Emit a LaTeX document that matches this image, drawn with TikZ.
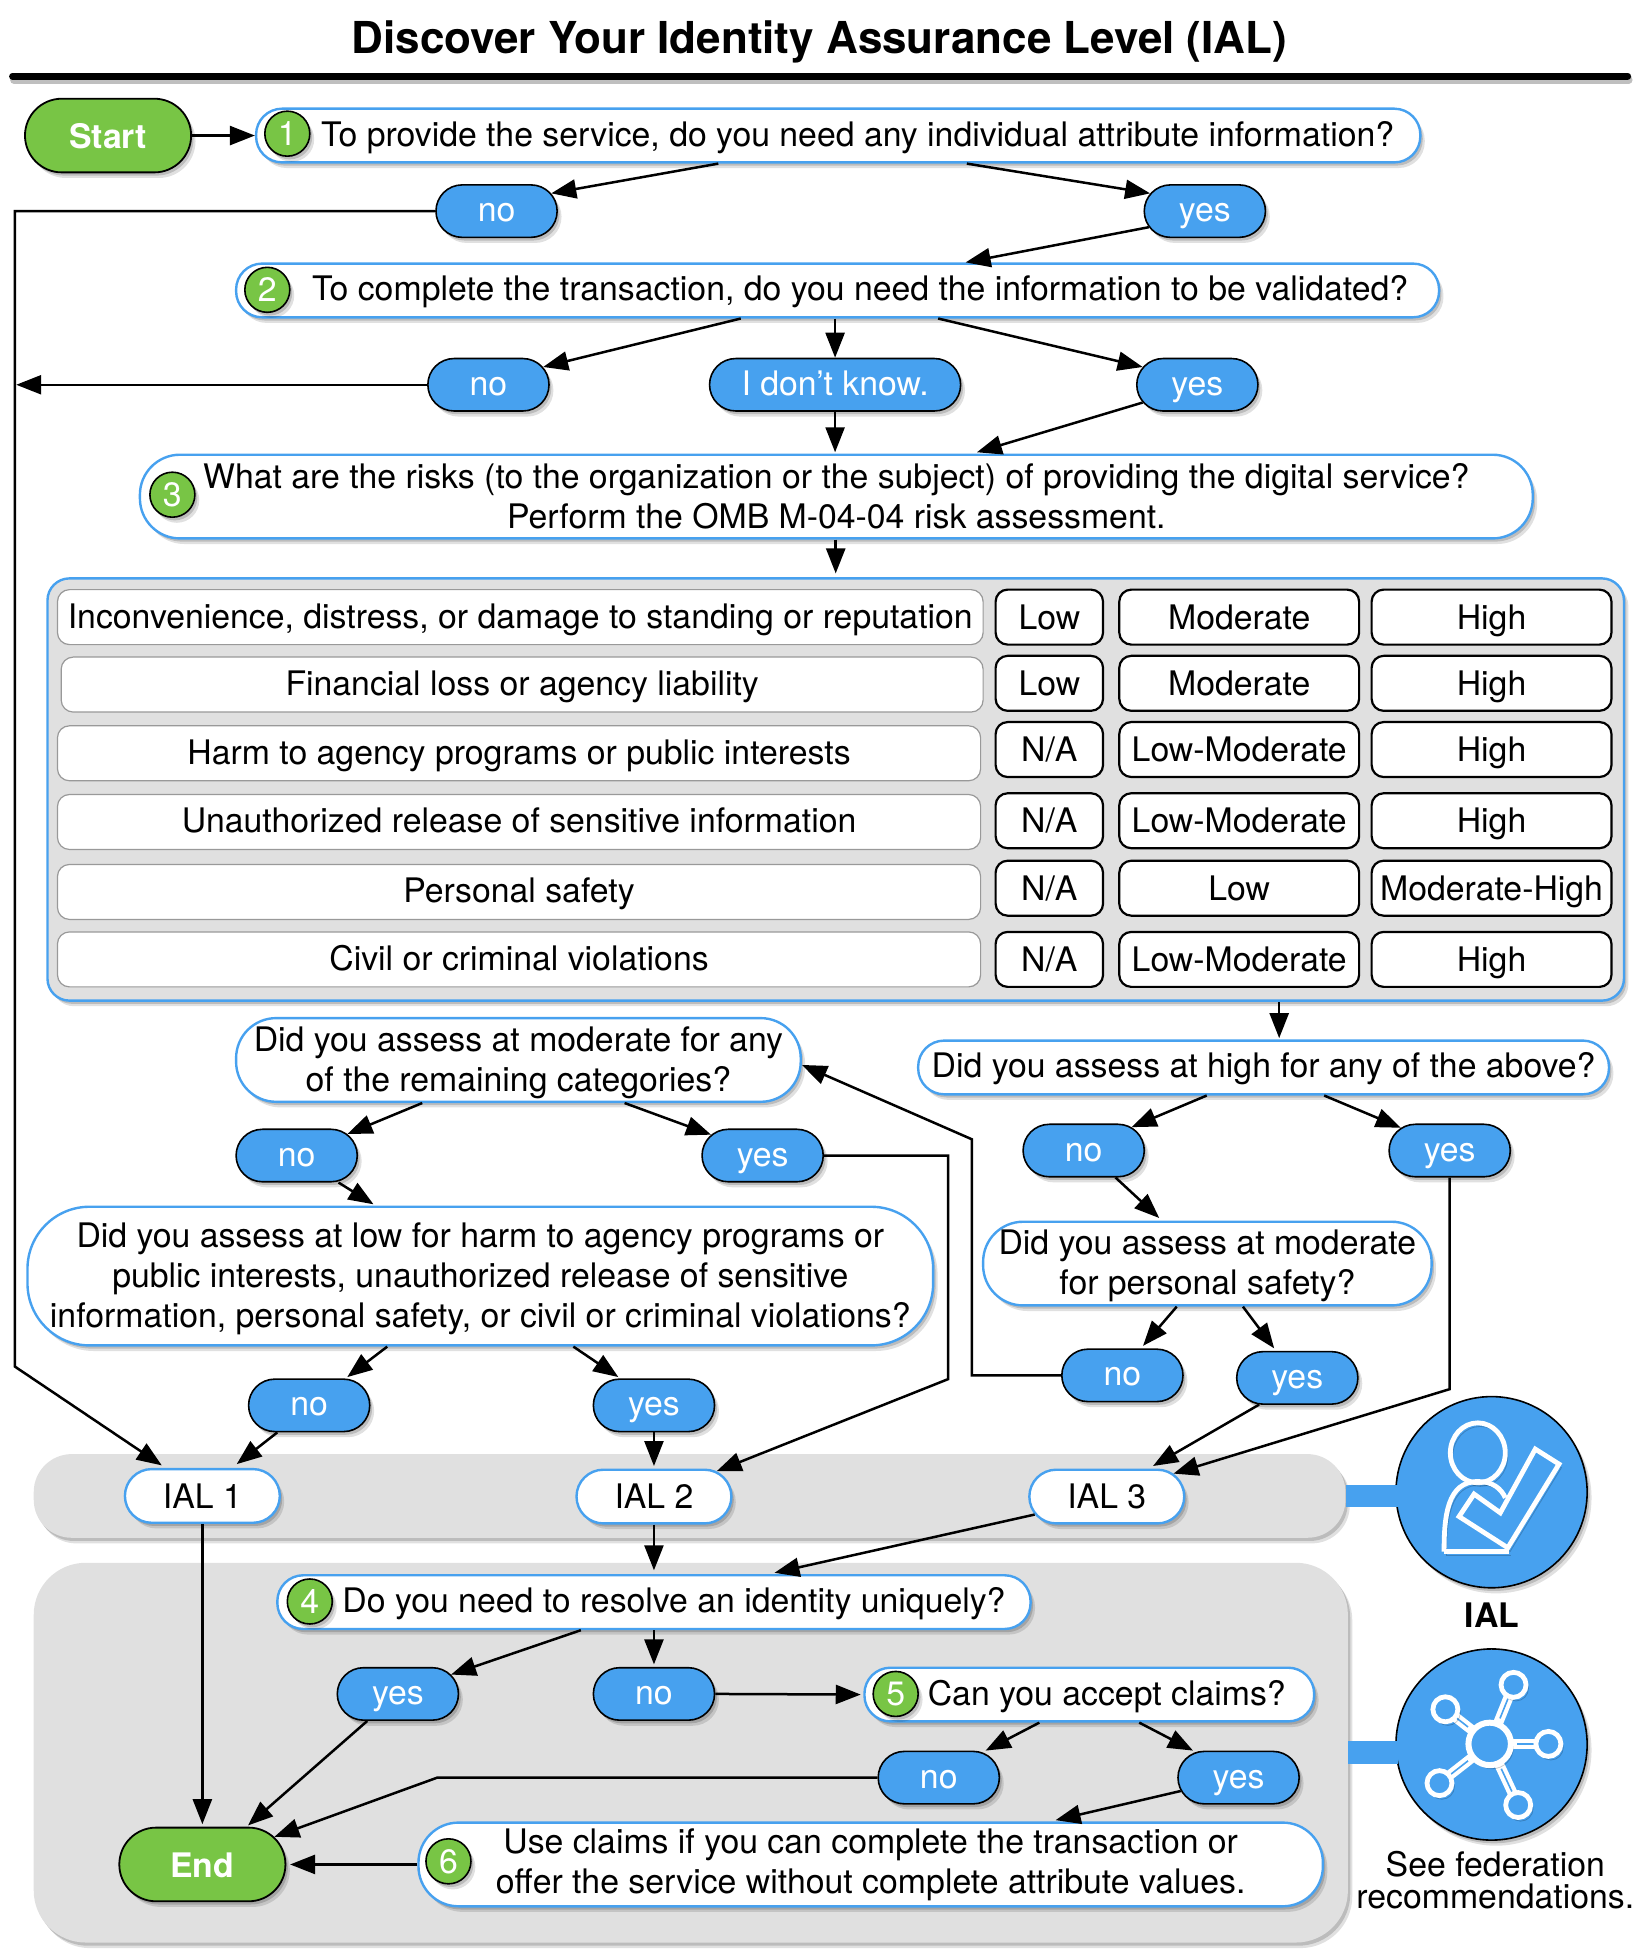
\documentclass[tikz,border=0pt]{standalone}
\usepackage{fontspec}
\setmainfont{TeX Gyre Heros}
\usetikzlibrary{arrows.meta,calc,shadows,shapes.misc}
\definecolor{skyblue}{HTML}{47A1EF}
\definecolor{leaf}{HTML}{78C545}
\definecolor{panelgray}{HTML}{E0E0E0}
\newcommand{\lowerline}{\rule{0pt}{14.8pt}}
\tikzset{
	boxsize/.style 2 args={minimum width=#1*0.6246pt,minimum height=#2*0.6246pt},
	softshadow/.style={drop shadow={shadow xshift=1.2pt,shadow yshift=-1.6pt,opacity=.16,fill=black},drop shadow={shadow xshift=2.2pt,shadow yshift=-2.8pt,opacity=.12,fill=black}},
	bodytext/.style={font=\fontsize{16.9}{20}\selectfont},
	question/.style={rectangle,rounded corners=13pt,draw=skyblue,line width=1.2pt,fill=white,inner sep=0pt,align=center,softshadow,bodytext,execute at begin node={\rule{0pt}{14.2pt}}},
	answer/.style={rounded rectangle,draw=black,line width=.8pt,fill=skyblue,text=white,inner sep=0pt,text height=13.5pt,text depth=3pt,softshadow,bodytext,boxsize={97}{42}},
	terminal/.style={rounded rectangle,draw=black,line width=.9pt,fill=leaf,text=white,inner sep=0pt,text height=13.2pt,text depth=0pt,softshadow,boxsize={133}{59},font=\fontsize{16.9}{20}\selectfont\bfseries},
	level/.style={rounded rectangle,draw=skyblue,line width=1.2pt,fill=white,inner sep=0pt,softshadow,bodytext,boxsize={124}{43}},
	badge/.style={circle,draw=black,line width=.8pt,fill=leaf,text=white,inner sep=0pt,minimum size=22.5pt,softshadow,bodytext},
	rowlabel/.style={rectangle,rounded corners=6pt,draw=black!40,line width=.6pt,fill=white,inner sep=0pt,text height=14pt,text depth=3pt,bodytext},
	cell/.style={rectangle,rounded corners=6pt,draw=black,line width=1.1pt,fill=white,inner sep=0pt,text height=15pt,text depth=3pt,bodytext},
	band/.style={rectangle,fill=panelgray,softshadow},
	link/.style={-{Triangle[length=12.5pt,width=9.5pt]},line width=1.25pt},
	iconline/.style={draw=white,line width=2.4pt,preaction={draw=black,opacity=.2,transform canvas={shift={(1.2pt,-1.8pt)}}}},
	iconcircle/.style={circle,draw=black,line width=.8pt,fill=skyblue,minimum size=95.6pt,inner sep=0pt,softshadow}
}
\begin{document}
\begin{tikzpicture}[x=0.6246pt,y=-0.6246pt]
	\useasboundingbox (0,0) rectangle (1311.2,1567.4);

	% title
	\node[font=\fontsize{22}{26}\selectfont\bfseries] (title) at (656,33.5) {Discover Your Identity Assurance Level (IAL)};
	\draw[line width=3.6pt,line cap=round,black!25] (11,64) -- (1304,64);
	\draw[line width=3.4pt,line cap=round] (10,61) -- (1303,61);

	% grey bands behind the levels
	\node[band,rounded corners=19pt,boxsize={1050}{67}] (banda) at (552,1197.5) {};
	\node[band,rounded corners=26pt,boxsize={1052}{304}] (bandb) at (553,1403) {};
	\node[iconcircle] (icona) at (1194,1194.5) {};
	\node[iconcircle] (iconb) at (1194,1396.5) {};
	\fill[skyblue] ($(banda.east)+(0,-9)$) rectangle ($(icona.west)+(2,12)$);
	\fill[skyblue] ($(bandb.east)+(0,-9)$) rectangle ($(iconb.west |- bandb.east)+(2,9)$);

	% person with the check mark
	\draw[iconline] (1183,1163) ellipse (22 and 24);
	\draw[iconline,line join=miter] (1156,1242) .. controls (1156,1215) and (1158,1185) .. (1184,1186) .. controls (1195,1186) and (1202,1192) .. (1205,1199);
	\draw[iconline] (1156,1242) -- (1208,1242);
	\filldraw[iconline,fill=skyblue,line join=miter] (1229,1160) -- (1248,1172) -- (1207,1239) -- (1168,1214) -- (1180,1196) -- (1201,1211) -- cycle;

	% network
	\begin{scope}[shift={(1192.5,1396)}]
		\foreach \ang/\len in {-68/51,-142/45,0/47,142/51,65/54}{
			\draw[white,line width=5pt,preaction={draw=black,opacity=.2,transform canvas={shift={(1.2pt,-1.8pt)}}}] (\ang:16) -- (\ang:\len);
			\draw[skyblue,line width=.8pt] (\ang:22) -- (\ang:\len);
			\filldraw[iconline,fill=skyblue] (\ang:\len) circle (10);
		}
		\filldraw[iconline,fill=skyblue,line width=3pt] (0,0) circle (17);
	\end{scope}
	\node[font=\fontsize{16.9}{20}\selectfont\bfseries] (iallabel) at (1194.5,1293) {IAL};
	\node[align=center,font=\fontsize{16.9}{16}\selectfont] (fedlabel) at (1197,1505) {See federation\\recommendations.};

	% questions
	\node[terminal] (startnode) at (86.5,108.5) {Start};
	\node[question,boxsize={932}{43}] (qa) at (671,108.5) {\hspace{19.4pt}To provide the service, do you need any individual attribute information?};
	\node[badge] (ba) at (230,107) {1};
	\node[answer] (noa) at (397.5,169) {no};
	\node[answer] (yesa) at (964.5,169) {yes};

	\node[question,boxsize={963}{43}] (qb) at (670.5,232.5) {\hspace{22.5pt}To complete the transaction, do you need the information to be validated?};
	\node[badge] (bb) at (214,232) {2};
	\node[answer] (nob) at (391,308) {no};
	\node[answer,boxsize={201}{42}] (dunno) at (668.5,308) {I don’t know.};
	\node[answer] (yesb) at (958.5,308) {yes};

	\node[question,rounded corners=20pt,boxsize={1115}{67}] (qc) at (669.5,397.5) {What are the risks (to the organization or the subject) of providing the digital service?\\Perform the OMB M-04-04 risk assessment.};
	\node[badge] (bc) at (138,396) {3};

	% risk table
	\node[rectangle,rounded corners=11pt,draw=skyblue,line width=1.2pt,fill=panelgray,softshadow,boxsize={1262}{338}] (panel) at (669,632) {};
	\foreach \lx/\lw/\ly/\cy/\ca/\cb/\cc/\txt [count=\n] in {
		416.5/741/494/494/Low/Moderate/High/{Inconvenience, distress, or damage to standing or reputation},
		418/738/548/547/Low/Moderate/High/{Financial loss or agency liability},
		415.5/739/603/600/N\slash A/Low-Moderate/High/{Harm to agency programs or public interests},
		415.5/739/658/657/N\slash A/Low-Moderate/High/{Unauthorized release of sensitive information},
		415.5/739/714/711/N\slash A/Low/Moderate-High/{Personal safety},
		415.5/739/768/768/N\slash A/Low-Moderate/High/{Civil or criminal violations}}{
		\node[rowlabel,boxsize={\lw}{44}] (row\n) at (\lx,\ly) {\txt};
		\node[cell,boxsize={86}{44}] (low\n) at (840,\cy) {\ca};
		\node[cell,boxsize={192}{44}] (mid\n) at (992,\cy) {\cb};
		\node[cell,boxsize={192}{44}] (high\n) at (1194,\cy) {\cc};
	}

	\node[question,rounded corners=20pt,boxsize={452}{67}] (qmod) at (415,848.5) {\lowerline Did you assess at moderate for any\\of the remaining categories?};
	\node[question,boxsize={553}{43}] (qhigh) at (1011.5,854.5) {Did you assess at high for any of the above?};
	\node[answer] (nomod) at (237.5,925) {no};
	\node[answer] (yesmod) at (610.5,925) {yes};
	\node[answer] (nohigh) at (867.5,921) {no};
	\node[answer] (yeshigh) at (1160.5,921) {yes};
	\node[question,rounded corners=31pt,boxsize={725}{111}] (qlow) at (384.5,1021.5) {\lowerline Did you assess at low for harm to agency programs or\\public interests, unauthorized release of sensitive\\information, personal safety, or civil or criminal violations?};
	\node[question,rounded corners=20pt,boxsize={359}{67}] (qsafe) at (966.5,1011.5) {\lowerline Did you assess at moderate\\for personal safety?};
	\node[answer] (nosafe) at (898.5,1101) {no};
	\node[answer] (yessafe) at (1038.5,1103) {yes};
	\node[answer] (nolow) at (247.5,1125) {no};
	\node[answer] (yeslow) at (523.5,1125) {yes};

	% levels
	\node[level] (iala) at (162,1197.5) {IAL 1};
	\node[level] (ialb) at (523.5,1198) {IAL 2};
	\node[level] (ialc) at (886,1198) {IAL 3};

	\node[question,boxsize={603}{43}] (qd) at (523.5,1282.5) {\hspace{20pt}Do you need to resolve an identity uniquely?};
	\node[badge] (bd) at (248,1282) {4};
	\node[answer] (yesd) at (318.5,1356) {yes};
	\node[answer] (nod) at (523.5,1356) {no};
	\node[question,boxsize={360}{43}] (qe) at (872,1356.5) {\hspace{17.5pt}Can you accept claims?};
	\node[badge] (be) at (717,1356) {5};
	\node[answer] (noe) at (751.5,1423) {no};
	\node[answer] (yese) at (991.5,1423) {yes};
	\node[question,rounded corners=20pt,boxsize={724}{67}] (qf) at (697,1492.5) {Use claims if you can complete the transaction or\\offer the service without complete attribute values.};
	\node[badge] (bf) at (359,1490) {6};
	\node[terminal] (endnode) at (162,1492.5) {End};

	% bends and free ends
	\coordinate (benda) at (12,1094);
	\coordinate (jointa) at (13,308);
	\coordinate (bendb) at (759,1104);
	\coordinate (bendc) at (778,912);
	\coordinate (bendd) at (1160.5,1112);
	\coordinate (bende) at (350,1423);

	% connectors
	\draw[link] (startnode.east) -- (qa.west);
	\draw[link] ($(qa.south)+(-96,0)$) -- (noa.18);
	\draw[link] ($(qa.south)+(103,0)$) -- (yesa.162);
	\draw[link] (yesa.196) -- ($(qb.north)+(102.5,0)$);
	\draw[link] (noa.west) -| (benda) -- ($(iala.north)+(-32.5,-2)$);
	\draw[link] ($(qb.south)+(-77.5,0)$) -- (nob.18);
	\draw[link] ($(qb.south)+(-2,0)$) -- (dunno.north);
	\draw[link] ($(qb.south)+(80.5,0)$) -- (yesb.162);
	\draw[link] (nob.west) -- (jointa);
	\draw[link] (dunno.south) -- ($(qc.north)+(-1,-1)$);
	\draw[link] (yesb.198) -- ($(qc.north)+(112.5,-1)$);
	\draw[link] ($(qc.south)+(-.5,0)$) -- ($(panel.north)+(0,-3)$);
	\draw[link] ($(panel.south)+(355,0)$) -- ($(qhigh.north)+(12.5,-1)$);
	\draw[link] ($(qhigh.south)+(-45.5,0)$) -- (nohigh.26);
	\draw[link] ($(qhigh.south)+(48.5,0)$) -- (yeshigh.155);
	\draw[link] ($(nohigh.south)+(25.5,0)$) -- ($(qsafe.north)+(-38.5,-2)$);
	\draw[link] ($(qsafe.south)+(-24.5,0)$) -- ($(nosafe.north)+(16.5,-2)$);
	\draw[link] ($(qsafe.south)+(28.5,0)$) -- ($(yessafe.north)+(-18.5,-2)$);
	\draw[link] (nosafe.west) -| (bendc) -- ($(qmod.east)+(0,4)$);
	\draw[link] (yessafe.215) -- ($(ialc.north)+(37,-2)$);
	\draw[link] (yeshigh.south) -- (bendd) -- (ialc.19);
	\draw[link] ($(qmod.south)+(-77,0)$) -- (nomod.23);
	\draw[link] ($(qmod.south)+(85,0)$) -- (yesmod.158);
	\draw[link] ($(nomod.south)+(33.5,0)$) -- ($(qlow.north)+(-85.5,-1)$);
	\draw[link] (yesmod.east) -| (bendb) -- (ialb.22);
	\draw[link] ($(qlow.south)+(-74.5,0)$) -- ($(nolow.north)+(30.5,-1)$);
	\draw[link] ($(qlow.south)+(74.5,0)$) -- ($(yeslow.north)+(-28.5,-1)$);
	\draw[link] ($(nolow.south)+(-25.5,0)$) -- ($(iala.north)+(27.5,-3)$);
	\draw[link] (yeslow.south) -- ($(ialb.north)+(0,-2)$);
	\draw[link] (iala.south) -- ($(endnode.north)+(0,-2)$);
	\draw[link] (ialb.south) -- ($(qd.north)+(0,-3)$);
	\draw[link] (ialc.194) -- ($(qd.north)+(96.5,-1)$);
	\draw[link] ($(qd.south)+(-58.5,0)$) -- (yesd.20);
	\draw[link] (qd.south) -- ($(nod.north)+(0,-2)$);
	\draw[link] ($(yesd.south)+(-24.5,0)$) -- ($(endnode.north)+(36.5,-1)$);
	\draw[link] (nod.east) -- ($(qe.west)+(-2,0)$);
	\draw[link] ($(qe.south)+(-40,0)$) -- ($(noe.north)+(37.5,0)$);
	\draw[link] ($(qe.south)+(40,0)$) -- ($(yese.north)+(-36.5,0)$);
	\draw[link] (noe.west) -- (bende) -- (endnode.21);
	\draw[link] (yese.193) -- ($(qf.north)+(148,-1)$);
	\draw[link] (qf.west) -- ($(endnode.east)+(3,0)$);
\end{tikzpicture}
\end{document}
